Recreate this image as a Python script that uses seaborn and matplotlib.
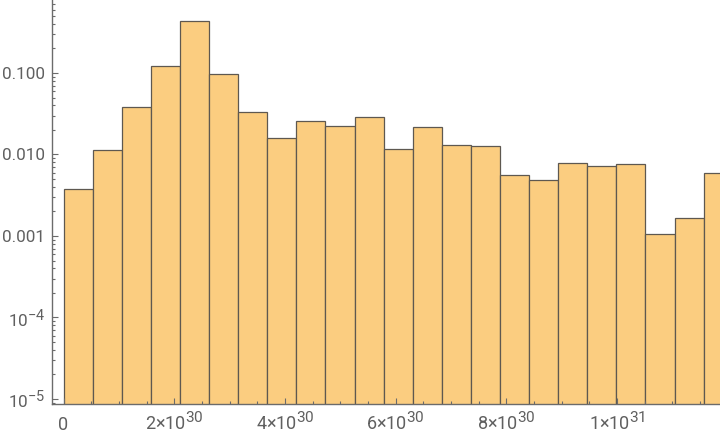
import numpy as np
import pandas as pd
import matplotlib
matplotlib.use("Agg")
import matplotlib.pyplot as plt
import matplotlib.ticker as mticker
import matplotlib._mathtext as mathtext_internal
import seaborn as sns

# histogram data (bin width, heights on log scale)
bin_start = 0.0
bin_width = 0.5257e30
heights = [0.00374, 0.01127, 0.0379, 0.1208, 0.430, 0.0964, 0.0330, 0.0158,
           0.0255, 0.0222, 0.0286, 0.0116, 0.0216, 0.0130, 0.0126, 0.00556,
           0.00482, 0.00780, 0.00716, 0.00759, 0.00105, 0.00165, 0.00587]
x_ticks = [0, 2e30, 4e30, 6e30, 8e30, 1e31]
x_tick_labels = ["0", "2×10$^{30}$", "4×10$^{30}$", "6×10$^{30}$",
                 "8×10$^{30}$", "1×10$^{31}$"]
y_ticks = [1e-5, 1e-4, 1e-3, 1e-2, 1e-1]
y_tick_labels = ["10$^{-5}$", "10$^{-4}$", "0.001", "0.010", "0.100"]

edges = bin_start + bin_width * np.arange(len(heights) + 1)
df = pd.DataFrame({"center": (edges[:-1] + edges[1:]) / 2, "height": heights})

# bigger exponents, closer to the original look
mathtext_internal.SHRINK_FACTOR = 0.85

sns.set_style("white")
plt.rcParams["font.family"] = ["Roboto", "DejaVu Sans"]
plt.rcParams["mathtext.fontset"] = "custom"
plt.rcParams["mathtext.rm"] = "Roboto"
plt.rcParams["mathtext.it"] = "Roboto:italic"
plt.rcParams["mathtext.bf"] = "Roboto:bold"

axis_gray = "#6b6b6b"
label_gray = "#606060"

fig = plt.figure(figsize=(7.2, 4.38), dpi=100)
ax = fig.add_axes([52 / 720, 34 / 438, 1 - 52 / 720, 1 - 34 / 438])
ax.set_axisbelow(False)

sns.histplot(data=df, x="center", weights="height", bins=list(edges), ax=ax,
             color="#fbcd80", alpha=1.0, edgecolor="#5e5850", linewidth=0.9)

ax.set_yscale("log")
ax.set_xlim(-0.208e30, 11.86e30)
ax.set_ylim(8.68e-6, 0.786)

ax.set_xticks(x_ticks)
ax.set_xticklabels(x_tick_labels)
ax.xaxis.set_minor_locator(mticker.MultipleLocator(0.5e30))
ax.set_yticks(y_ticks)
ax.set_yticklabels(y_tick_labels)
ax.yaxis.set_minor_locator(mticker.LogLocator(base=10, subs=np.arange(2, 10)))
ax.yaxis.set_minor_formatter(mticker.NullFormatter())

ax.set_xlabel("")
ax.set_ylabel("")

for side in ["top", "right"]:
    ax.spines[side].set_visible(False)
for side in ["left", "bottom"]:
    ax.spines[side].set_color(axis_gray)
    ax.spines[side].set_linewidth(1.0)

ax.tick_params(axis="both", which="both", direction="in", colors=axis_gray,
               labelcolor=label_gray, width=0.8,
               bottom=True, left=True, top=False, right=False)
ax.tick_params(axis="both", which="major", length=4.5)
ax.tick_params(axis="both", which="minor", length=2.5)
ax.tick_params(axis="y", pad=5.0, labelsize=12.3)
ax.tick_params(axis="x", pad=19, labelsize=13)
for lab in ax.get_xticklabels():
    lab.set_verticalalignment("baseline")

fig.savefig("out.png", dpi=100)
